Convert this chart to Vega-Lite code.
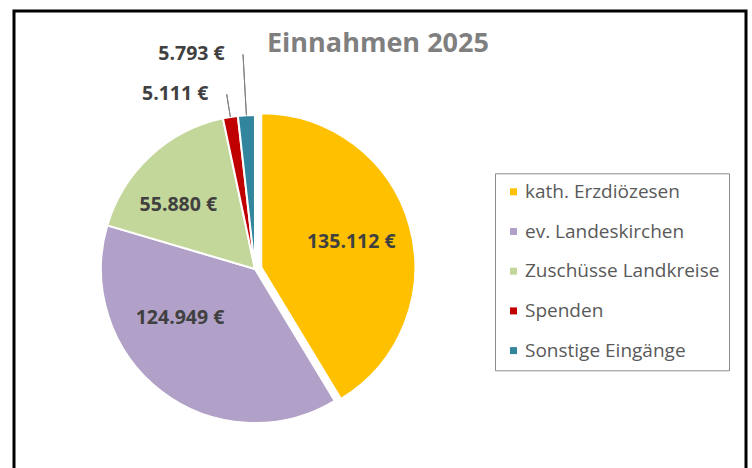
{
  "$schema": "https://vega.github.io/schema/vega-lite/v6.json",
  "width": 732,
  "height": 470,
  "autosize": {"type": "none"},
  "padding": {"left": 14, "top": 11, "right": 6, "bottom": 0},
  "background": "white",
  "config": {
    "view": {"stroke": "#000000", "strokeWidth": 3},
    "locale": {"number": {"decimal": ",", "thousands": ".", "grouping": [3], "currency": ["", " €"]}}
  },
  "title": {
    "text": "Einnahmen 2025",
    "anchor": "start",
    "frame": "group",
    "dx": 253,
    "offset": -68,
    "baseline": "alphabetic",
    "font": "Open Sans",
    "fontSize": 27,
    "fontWeight": "bold",
    "color": "#7F7F7F"
  },
  "data": {
    "values": [
      {"cat": "kath. Erzdiözesen", "value": 135112},
      {"cat": "ev. Landeskirchen", "value": 124949},
      {"cat": "Zuschüsse Landkreise", "value": 55880},
      {"cat": "Spenden", "value": 5111},
      {"cat": "Sonstige Eingänge", "value": 5793}
    ]
  },
  "encoding": {
    "theta": {"field": "value", "type": "quantitative", "stack": true},
    "order": {"field": "cat", "type": "nominal", "sort": "descending"},
    "detail": {"field": "cat", "type": "nominal"},
    "x": {"datum": 0.3292, "type": "quantitative", "scale": {"domain": [0, 1], "nice": false, "zero": false}, "axis": null},
    "y": {"datum": 0.4511, "type": "quantitative", "scale": {"domain": [0, 1], "nice": false, "zero": false}, "axis": null}
  },
  "layer": [
    {
      "mark": {"type": "arc", "outerRadius": 154, "stroke": "white", "strokeWidth": 2},
      "encoding": {
        "color": {
          "field": "cat", "type": "nominal",
          "scale": {
            "domain": ["kath. Erzdiözesen", "ev. Landeskirchen", "Zuschüsse Landkreise", "Spenden", "Sonstige Eingänge"],
            "range": ["#FFC000", "#B1A0C7", "#C4D79B", "#C00000", "#31859C"]
          },
          "legend": {
            "orient": "none", "legendX": 481, "legendY": 162.3, "title": null,
            "symbolType": "square", "symbolSize": 49, "symbolStrokeWidth": 0, "symbolOpacity": 1,
            "labelFont": "Open Sans", "labelFontSize": 19, "labelColor": "#595959", "labelOffset": 2,
            "rowPadding": 19.7, "padding": 9, "strokeColor": "#8C8C8C", "labelLimit": 400
          }
        },
        "opacity": {"condition": {"test": "datum.cat === 'kath. Erzdiözesen'", "value": 0}, "value": 1}
      }
    },
    {
      "mark": {"type": "arc", "outerRadius": 154, "stroke": "white", "strokeWidth": 2, "xOffset": 6.3, "yOffset": -1.8},
      "encoding": {
        "color": {"field": "cat", "type": "nominal"},
        "opacity": {"condition": {"test": "datum.cat === 'kath. Erzdiözesen'", "value": 1}, "value": 0}
      }
    },
    {
      "mark": {"type": "arc", "padAngle": 3, "innerRadius": 154, "outerRadius": 215, "fillOpacity": 0, "stroke": "#808080", "strokeWidth": 1},
      "encoding": {"opacity": {"condition": {"test": "datum.cat === 'Sonstige Eingänge'", "value": 1}, "value": 0}}
    },
    {
      "mark": {"type": "arc", "padAngle": 3, "innerRadius": 154, "outerRadius": 177, "fillOpacity": 0, "stroke": "#808080", "strokeWidth": 1},
      "encoding": {"opacity": {"condition": {"test": "datum.cat === 'Spenden'", "value": 1}, "value": 0}}
    },
    {
      "mark": {"type": "text", "radius": 100, "font": "Open Sans", "fontSize": 19.5, "fontWeight": "bold", "color": "#404040", "align": "center", "baseline": "middle"},
      "encoding": {
        "text": {"field": "value", "type": "quantitative", "format": "$,.0f"},
        "opacity": {"condition": {"test": "datum.cat === 'kath. Erzdiözesen'", "value": 1}, "value": 0}
      }
    },
    {
      "mark": {"type": "text", "radius": 90, "dx": -20, "dy": -22, "font": "Open Sans", "fontSize": 19.5, "fontWeight": "bold", "color": "#404040", "align": "center", "baseline": "middle"},
      "encoding": {
        "text": {"field": "value", "type": "quantitative", "format": "$,.0f"},
        "opacity": {"condition": {"test": "datum.cat === 'ev. Landeskirchen'", "value": 1}, "value": 0}
      }
    },
    {
      "mark": {"type": "text", "radius": 100, "dx": -8.7, "dy": 9.5, "font": "Open Sans", "fontSize": 19.5, "fontWeight": "bold", "color": "#404040", "align": "center", "baseline": "middle"},
      "encoding": {
        "text": {"field": "value", "type": "quantitative", "format": "$,.0f"},
        "opacity": {"condition": {"test": "datum.cat === 'Zuschüsse Landkreise'", "value": 1}, "value": 0}
      }
    },
    {
      "mark": {"type": "text", "radius": 215, "dx": -51.5, "font": "Open Sans", "fontSize": 19.5, "fontWeight": "bold", "color": "#404040", "align": "center", "baseline": "middle"},
      "encoding": {
        "text": {"field": "value", "type": "quantitative", "format": "$,.0f"},
        "opacity": {"condition": {"test": "datum.cat === 'Sonstige Eingänge'", "value": 1}, "value": 0}
      }
    },
    {
      "mark": {"type": "text", "radius": 177, "dx": -51.5, "font": "Open Sans", "fontSize": 19.5, "fontWeight": "bold", "color": "#404040", "align": "center", "baseline": "middle"},
      "encoding": {
        "text": {"field": "value", "type": "quantitative", "format": "$,.0f"},
        "opacity": {"condition": {"test": "datum.cat === 'Spenden'", "value": 1}, "value": 0}
      }
    }
  ]
}
